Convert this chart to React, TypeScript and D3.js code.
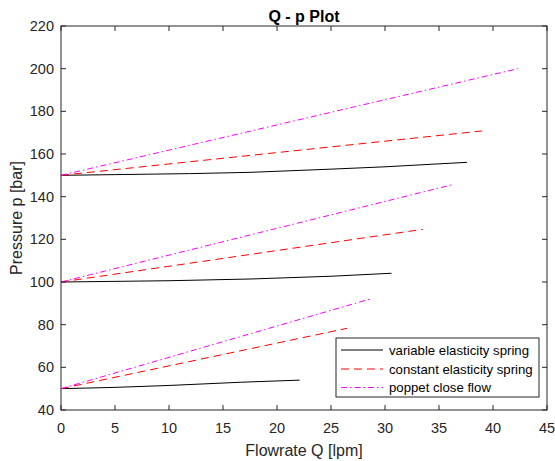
import React from "react";
import * as d3 from "d3";

const xTicks = [0, 5, 10, 15, 20, 25, 30, 35, 40, 45];
const yTicks = [40, 60, 80, 100, 120, 140, 160, 180, 200, 220];

// variable elasticity spring (black, solid)
const variable50: [number, number][] = [[0, 50], [5, 50.6], [10, 51.5], [16.6, 53.0], [22.1, 54.0]];
const variable100: [number, number][] = [[0, 100], [10, 100.6], [17.5, 101.4], [25, 102.7], [30.6, 104.1]];
const variable150: [number, number][] = [[0, 150], [11.9, 150.8], [17.5, 151.4], [25, 152.9], [30, 154.0], [37.6, 156.1]];

// constant elasticity spring (red, dashed)
const constant50: [number, number][] = [[0, 50], [26.5, 78.3]];
const constant100: [number, number][] = [[0, 100], [33.5, 124.7]];
const constant150: [number, number][] = [[0, 150], [39.0, 170.8]];

// poppet close flow (magenta, dash-dot)
const poppet50: [number, number][] = [[0, 50], [28.6, 92.0]];
const poppet100: [number, number][] = [[0, 100], [36.3, 145.7]];
const poppet150: [number, number][] = [[0, 150], [42.3, 200.0]];

const legendLabels = ["variable elasticity spring", "constant elasticity spring", "poppet close flow"];

const W = 555, H = 461;
const L = 61, R = 547, T = 26, B = 410;
const axisColor = "#262626";
const font = "'Liberation Sans', Arial, Helvetica, sans-serif";

const styles = [
  { color: "#000000", dash: "none", data: [variable50, variable100, variable150] },
  { color: "#ff0000", dash: "8,5", data: [constant50, constant100, constant150] },
  { color: "#ff00ff", dash: "6,3,1.5,3", data: [poppet50, poppet100, poppet150] },
];

export default function App() {
  const x = d3.scaleLinear().domain([0, 45]).range([L, R]);
  const y = d3.scaleLinear().domain([40, 220]).range([B, T]);
  const line = d3.line<[number, number]>().x(d => x(d[0])).y(d => y(d[1]));
  const tl = 5;
  const legX = 336, legY = 338, legW = 203, legH = 59;
  const rowY = [350, 369, 387.5];

  return (
    <svg width={W} height={H} style={{ position: "absolute", left: 0, top: 0, background: "#fff" }} fontFamily={font}>
      <rect x={0} y={0} width={W} height={H} fill="#fff" />
      {styles.map((s, i) =>
        s.data.map((d, j) => (
          <path key={`${i}-${j}`} d={line(d) || ""} fill="none" stroke={s.color} strokeWidth={1} strokeDasharray={s.dash} />
        ))
      )}
      {/* axes box */}
      <rect x={L} y={T} width={R - L} height={B - T} fill="none" stroke={axisColor} strokeWidth={1} />
      {xTicks.map(t => (
        <g key={"x" + t}>
          <line x1={x(t)} x2={x(t)} y1={B} y2={B - tl} stroke={axisColor} />
          <line x1={x(t)} x2={x(t)} y1={T} y2={T + tl} stroke={axisColor} />
          <text x={x(t)} y={432.5} textAnchor="middle" fontSize={14.5} fill={axisColor}>{t}</text>
        </g>
      ))}
      {yTicks.map(t => (
        <g key={"y" + t}>
          <line x1={L} x2={L + tl} y1={y(t)} y2={y(t)} stroke={axisColor} />
          <line x1={R} x2={R - tl} y1={y(t)} y2={y(t)} stroke={axisColor} />
          <text x={54} y={y(t) + 5} textAnchor="end" fontSize={14.5} fill={axisColor}>{t}</text>
        </g>
      ))}
      <text x={(L + R) / 2} y={22} textAnchor="middle" fontSize={16} fontWeight="bold" fill="#000">Q - p Plot</text>
      <text x={(L + R) / 2} y={456} textAnchor="middle" fontSize={16} fill={axisColor}>Flowrate Q [lpm]</text>
      <text transform={`translate(22, ${(T + B) / 2}) rotate(-90)`} textAnchor="middle" fontSize={16} fill={axisColor}>Pressure p [bar]</text>
      {/* legend */}
      <rect x={legX} y={legY} width={legW} height={legH} fill="#fff" stroke={axisColor} strokeWidth={1} />
      {styles.map((s, i) => (
        <g key={"leg" + i}>
          <line x1={341} x2={383} y1={rowY[i]} y2={rowY[i]} stroke={s.color} strokeWidth={1} strokeDasharray={s.dash} />
          <text x={389} y={rowY[i] + 4.5} fontSize={13.2} fill="#000">{legendLabels[i]}</text>
        </g>
      ))}
    </svg>
  );
}
